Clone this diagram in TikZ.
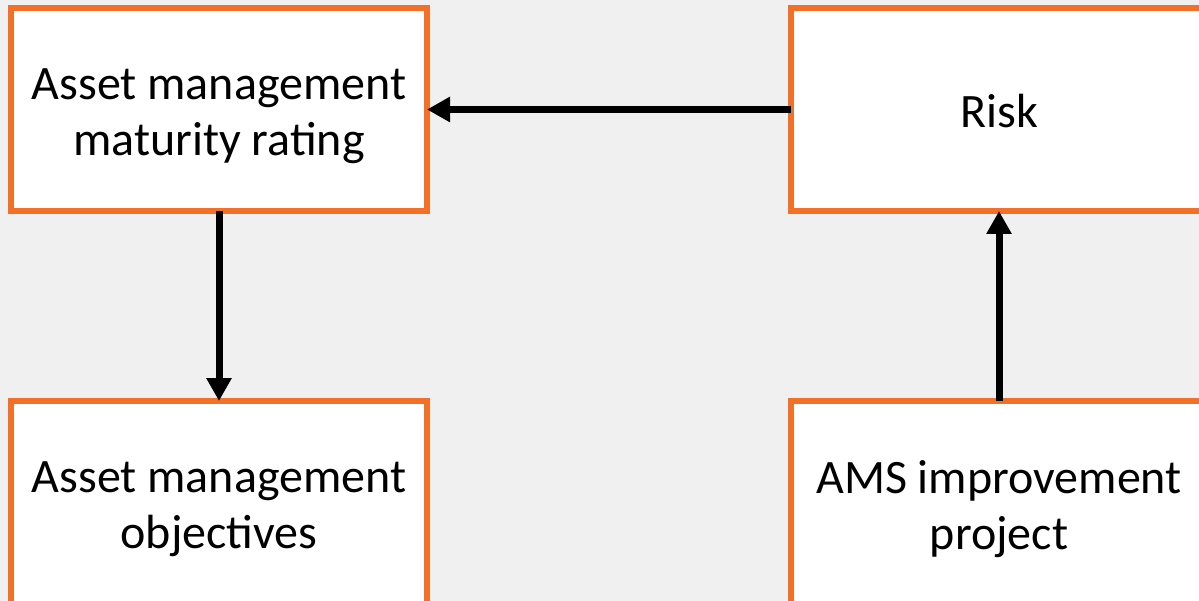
\documentclass[tikz,border=0pt]{standalone}
\usepackage{fontspec}
\setmainfont{Carlito}
\usetikzlibrary{arrows.meta}
\definecolor{bg}{RGB}{240,240,240}
\definecolor{orangeb}{RGB}{243,112,41}
\begin{document}
\begin{tikzpicture}[x=1pt,y=-1pt,
  box/.style={draw=orangeb,fill=white,line width=6pt,minimum width=416pt,minimum height=203pt,
    outer sep=0pt,inner sep=0pt},
  txt/.style={align=center,inner sep=0pt,font=\fontsize{48}{56}\selectfont},
  conn/.style={line width=7pt,-{Triangle[length=23pt,width=24pt]}}]
\fill[bg] (0,0) rectangle (1199,601);
\useasboundingbox (0,0) rectangle (1199,601);
\node[box] (tl) at (219,109.5) {};
\node[box] (tr) at (999,109.5) {};
\node[box] (bl) at (219,502.5) {};
\node[box] (br) at (999,502.5) {};
\node[txt] (tlt) at ([yshift=-7pt]tl.center) {Asset management\\maturity rating};
\node[txt] (trt) at ([yshift=-2pt]tr.center) {Risk};
\node[txt] (blt) at ([yshift=-7pt]bl.center) {Asset management\\objectives};
\node[txt] (brt) at ([yshift=-7pt]br.center) {AMS improvement\\project};
\draw[conn] (tr.west) -- (tl.east);
\draw[conn] (tl.south) -- (bl.north);
\draw[conn] (br.north) -- (tr.south);
\end{tikzpicture}
\end{document}
